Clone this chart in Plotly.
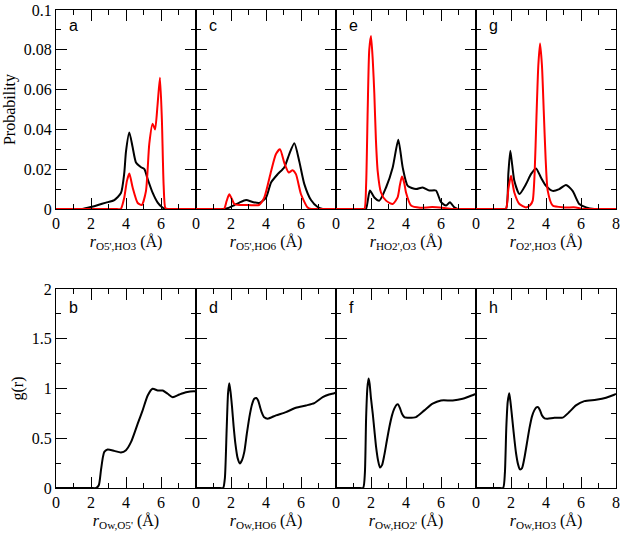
import plotly.graph_objects as go
from plotly.subplots import make_subplots

# ---- Panel a (top) ----
a_black_x = [0, 0.5, 1.0, 1.5, 2.0, 2.4, 2.86, 3.33, 3.71, 3.9, 4.0, 4.19, 4.38, 4.57, 4.86, 5.05, 5.24, 5.52, 5.81, 6.05, 6.2, 6.35, 6.6, 7.0, 7.5, 8]
a_black_y = [0, 0, 0, 0, 0.001, 0.002, 0.0032, 0.0045, 0.008, 0.018, 0.029, 0.0385, 0.031, 0.0234, 0.021, 0.020, 0.015, 0.0082, 0.0032, 0.001, 0.0002, 0, 0, 0, 0, 0]
a_red_x = [0, 0.5, 1.0, 1.5, 2.0, 2.5, 3.0, 3.4, 3.7, 3.9, 4.05, 4.19, 4.38, 4.67, 4.9, 5.14, 5.33, 5.52, 5.66, 5.8, 5.94, 6.05, 6.15, 6.25, 6.4, 6.7, 7.0, 7.5, 8]
a_red_y = [0, 0, 0, 0, 0, 0, 0, 0, 0, 0.0057, 0.014, 0.0178, 0.0108, 0.003, 0.002, 0.009, 0.0327, 0.0428, 0.040, 0.052, 0.066, 0.045, 0.012, 0.0005, 0, 0, 0, 0, 0]

# ---- Panel c (top) ----
c_black_x = [0, 0.5, 1.0, 1.3, 1.6, 1.9, 2.2, 2.48, 2.86, 3.24, 3.62, 4.0, 4.29, 4.67, 5.05, 5.33, 5.62, 5.9, 6.19, 6.57, 6.95, 7.24, 7.6, 8]
c_black_y = [0, 0, 0, 0, 0, 0.0007, 0.002, 0.0032, 0.0045, 0.0035, 0.003, 0.0057, 0.0133, 0.0175, 0.021, 0.0276, 0.033, 0.024, 0.0125, 0.0045, 0.001, 0, 0, 0]
c_red_x = [0, 0.5, 1.0, 1.3, 1.6, 1.75, 1.9, 2.05, 2.19, 2.48, 3.0, 3.6, 3.9, 4.29, 4.57, 4.8, 5.05, 5.3, 5.52, 5.71, 6.0, 6.38, 6.57, 7.0, 7.5, 8]
c_red_y = [0, 0, 0, 0, 0, 0.004, 0.0074, 0.005, 0.0025, 0.002, 0.002, 0.002, 0.0057, 0.019, 0.0276, 0.030, 0.023, 0.0183, 0.0195, 0.0175, 0.0074, 0.0007, 0, 0, 0, 0]

# ---- Panel e (top) ----
e_black_x = [0, 0.5, 1.0, 1.4, 1.71, 1.83, 1.94, 2.19, 2.48, 2.86, 3.24, 3.56, 3.81, 4.1, 4.57, 4.95, 5.33, 5.71, 6.0, 6.29, 6.51, 6.76, 6.95, 7.3, 7.7, 8]
e_black_y = [0, 0, 0, 0, 0, 0.005, 0.0093, 0.0058, 0.0042, 0.0108, 0.0209, 0.0348, 0.0209, 0.0116, 0.010, 0.0108, 0.0093, 0.0093, 0.0034, 0.0017, 0.0034, 0.0008, 0, 0, 0, 0]
e_red_x = [0, 0.5, 1.0, 1.4, 1.62, 1.72, 1.81, 1.9, 2.0, 2.1, 2.19, 2.28, 2.38, 2.57, 2.86, 3.24, 3.52, 3.65, 3.77, 3.9, 4.0, 4.29, 4.8, 5.5, 6.2, 6.7, 7.2, 8]
e_red_y = [0, 0, 0, 0, 0, 0.012, 0.0495, 0.080, 0.0869, 0.075, 0.058, 0.035, 0.0192, 0.0083, 0.0042, 0.0025, 0.0058, 0.012, 0.0163, 0.013, 0.0083, 0.0017, 0.0006, 0.001, 0.0005, 0, 0, 0]

# ---- Panel g (top) ----
g_black_x = [0, 0.5, 1.0, 1.4, 1.71, 1.85, 1.96, 2.07, 2.19, 2.48, 2.86, 3.14, 3.43, 3.71, 4.0, 4.38, 4.76, 5.14, 5.52, 5.9, 6.29, 6.76, 7.2, 7.6, 8]
g_black_y = [0, 0, 0, 0, 0, 0.018, 0.0293, 0.022, 0.0142, 0.0075, 0.0125, 0.0175, 0.0204, 0.0158, 0.0116, 0.0091, 0.010, 0.0121, 0.0091, 0.0025, 0.0008, 0, 0, 0, 0]
g_red_x = [0, 0.5, 1.0, 1.4, 1.71, 1.85, 2.0, 2.19, 2.48, 2.86, 3.1, 3.24, 3.35, 3.45, 3.56, 3.66, 3.77, 3.87, 3.98, 4.1, 4.38, 5.0, 5.7, 6.1, 6.6, 7.2, 8]
g_red_y = [0, 0, 0, 0, 0, 0.01, 0.0167, 0.0083, 0.0025, 0.0008, 0.002, 0.0042, 0.018, 0.045, 0.072, 0.0832, 0.072, 0.0495, 0.025, 0.0091, 0.0017, 0.0008, 0.0008, 0, 0, 0, 0]

# ---- Panel b (bottom) ----
b_x = [0, 0.5, 1.0, 1.5, 2.0, 2.3, 2.45, 2.57, 2.68, 2.76, 2.95, 3.33, 3.71, 4.0, 4.29, 4.67, 4.95, 5.24, 5.52, 5.81, 6.1, 6.38, 6.67, 7.05, 7.43, 7.9, 8]
b_y = [0, 0, 0, 0, 0, 0, 0.03, 0.18, 0.31, 0.363, 0.387, 0.373, 0.357, 0.38, 0.463, 0.647, 0.78, 0.93, 0.997, 0.98, 0.98, 0.947, 0.913, 0.94, 0.963, 0.973, 0.97]

# ---- Panel d (bottom) ----
d_x = [0, 0.5, 1.0, 1.3, 1.55, 1.65, 1.75, 1.83, 1.9, 1.97, 2.06, 2.15, 2.25, 2.38, 2.51, 2.63, 2.76, 2.9, 3.05, 3.2, 3.33, 3.45, 3.55, 3.65, 3.75, 3.9, 4.1, 4.57, 5.14, 5.71, 6.29, 6.76, 7.24, 7.6, 7.9, 8]
d_y = [0, 0, 0, 0, 0, 0.1, 0.58, 0.95, 1.053, 0.97, 0.813, 0.62, 0.447, 0.3, 0.247, 0.28, 0.363, 0.54, 0.713, 0.84, 0.897, 0.905, 0.88, 0.82, 0.763, 0.71, 0.697, 0.73, 0.763, 0.807, 0.83, 0.853, 0.913, 0.94, 0.953, 0.96]

# ---- Panel f (bottom) ----
f_x = [0, 0.5, 1.0, 1.3, 1.55, 1.65, 1.72, 1.79, 1.86, 1.92, 2.0, 2.1, 2.2, 2.29, 2.4, 2.51, 2.63, 2.76, 2.9, 3.05, 3.2, 3.33, 3.45, 3.55, 3.66, 3.77, 3.92, 4.1, 4.57, 5.05, 5.52, 6.0, 6.67, 7.24, 7.6, 7.9, 8]
f_y = [0, 0, 0, 0, 0, 0.15, 0.7, 1.0, 1.1, 1.05, 0.9, 0.747, 0.57, 0.413, 0.28, 0.207, 0.23, 0.33, 0.47, 0.613, 0.73, 0.797, 0.835, 0.84, 0.8, 0.747, 0.71, 0.707, 0.713, 0.78, 0.847, 0.88, 0.88, 0.897, 0.92, 0.94, 0.945]

# ---- Panel h (bottom) ----
h_x = [0, 0.5, 1.0, 1.3, 1.55, 1.65, 1.73, 1.81, 1.9, 1.98, 2.1, 2.2, 2.29, 2.4, 2.51, 2.63, 2.76, 2.9, 3.05, 3.2, 3.33, 3.45, 3.55, 3.66, 3.77, 3.92, 4.1, 4.48, 4.95, 5.33, 5.71, 6.19, 6.86, 7.43, 7.9, 8]
h_y = [0, 0, 0, 0, 0, 0.15, 0.6, 0.863, 0.953, 0.85, 0.647, 0.48, 0.347, 0.24, 0.187, 0.2, 0.297, 0.44, 0.597, 0.72, 0.78, 0.81, 0.813, 0.78, 0.73, 0.7, 0.697, 0.707, 0.707, 0.763, 0.83, 0.873, 0.887, 0.907, 0.937, 0.945]

top_letters = ["a", "c", "e", "g"]
bottom_letters = ["b", "d", "f", "h"]
top_xtitles = ["O5',HO3", "O5',HO6", "HO2',O3", "O2',HO3"]
bottom_xtitles = ["Ow,O5'", "Ow,HO6", "Ow,HO2'", "Ow,HO3"]
x_tickvals = [0, 2, 4, 6, 8]

SERIF = "Liberation Serif, DejaVu Serif, serif"
SANS = "Liberation Sans, Arial, sans-serif"

fig = make_subplots(rows=2, cols=4, horizontal_spacing=0, vertical_spacing=0.1674)

top_series = [
    (a_black_x, a_black_y, a_red_x, a_red_y),
    (c_black_x, c_black_y, c_red_x, c_red_y),
    (e_black_x, e_black_y, e_red_x, e_red_y),
    (g_black_x, g_black_y, g_red_x, g_red_y),
]
bottom_series = [(b_x, b_y), (d_x, d_y), (f_x, f_y), (h_x, h_y)]

line_style = dict(shape="spline", smoothing=0.6, width=2)

for i, (bx, by, rx, ry) in enumerate(top_series):
    fig.add_trace(go.Scatter(x=bx, y=by, mode="lines", line=dict(color="black", **line_style),
                             showlegend=False), row=1, col=i + 1)
    fig.add_trace(go.Scatter(x=rx, y=ry, mode="lines", line=dict(color="#ff0000", **line_style),
                             showlegend=False), row=1, col=i + 1)

for i, (x, y) in enumerate(bottom_series):
    fig.add_trace(go.Scatter(x=x, y=y, mode="lines", line=dict(color="black", **line_style),
                             showlegend=False), row=2, col=i + 1)

axis_common = dict(
    showline=True, linecolor="black", linewidth=1, mirror="allticks",
    ticks="inside", ticklen=11, tickwidth=1, tickcolor="black",
    showgrid=False, zeroline=False, automargin=False,
    tickfont=dict(family=SERIF, size=16, color="black"),
)

for r in (1, 2):
    for c in range(1, 5):
        ticktext = ["0", "2", "4", "6", "8" if c == 4 else ""]
        titles = top_xtitles if r == 1 else bottom_xtitles
        fig.update_xaxes(
            range=[0, 8], tickvals=x_tickvals, ticktext=ticktext,
            minor=dict(ticks="inside", ticklen=5, dtick=1, tickcolor="black", showgrid=False),
            title=dict(text="<i>r</i><sub>" + titles[c - 1] + "</sub> (Å)",
                       font=dict(family=SERIF, size=16, color="black"), standoff=4),
            row=r, col=c, **axis_common)
        if r == 1:
            fig.update_yaxes(range=[0, 0.1], dtick=0.02, tick0=0,
                             minor=dict(ticks="inside", ticklen=5, dtick=0.01, tickcolor="black", showgrid=False),
                             showticklabels=(c == 1), row=r, col=c, **axis_common)
        else:
            fig.update_yaxes(range=[0, 2], dtick=0.5, tick0=0,
                             minor=dict(ticks="inside", ticklen=5, dtick=0.25, tickcolor="black", showgrid=False),
                             showticklabels=(c == 1), row=r, col=c, **axis_common)

fig.update_yaxes(title=dict(text="Probability", font=dict(family=SERIF, size=16, color="black"), standoff=4),
                 row=1, col=1)
fig.update_yaxes(title=dict(text="g(r)", font=dict(family=SERIF, size=16, color="black"), standoff=4),
                 row=2, col=1)

# panel letters
for i, letter in enumerate(top_letters):
    xref = "x" if i == 0 else "x%d" % (i + 1)
    yref = "y" if i == 0 else "y%d" % (i + 1)
    fig.add_annotation(x=0.6, y=0.092, xref=xref, yref=yref, text=letter, showarrow=False,
                       xanchor="left", yanchor="middle",
                       font=dict(family=SANS, size=16, color="black"))
for i, letter in enumerate(bottom_letters):
    n = i + 5
    fig.add_annotation(x=0.6, y=1.81, xref="x%d" % n, yref="y%d" % n, text=letter, showarrow=False,
                       xanchor="left", yanchor="middle",
                       font=dict(family=SANS, size=16, color="black"))

fig.update_layout(
    width=624, height=539,
    margin=dict(l=56, r=8, t=10, b=51),
    plot_bgcolor="white", paper_bgcolor="white",
    font=dict(family=SERIF, size=16, color="black"),
)

fig.write_html("out.html", config={"displayModeBar": False},
               post_script="document.body.style.margin='0';")
